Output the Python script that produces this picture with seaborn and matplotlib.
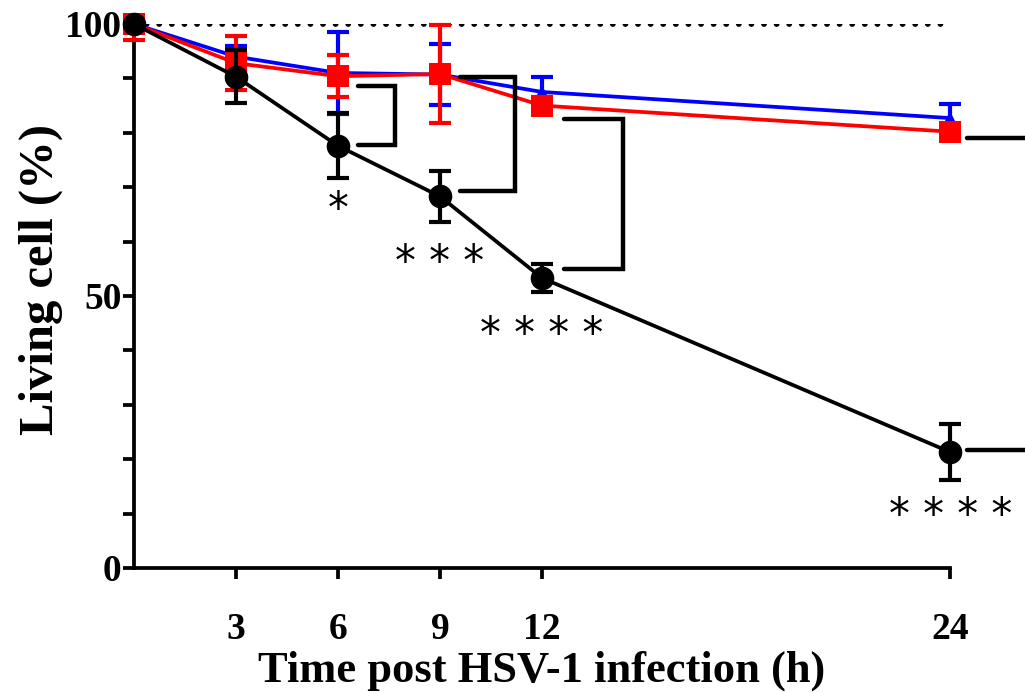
import numpy as np
import pandas as pd
import matplotlib
matplotlib.use("Agg")
import matplotlib.pyplot as plt
import seaborn as sns

# ---- data ----
times = [0, 3, 6, 9, 12, 24]
blue_mean = [100, 94.0, 91.0, 90.7, 87.5, 82.7]
blue_sd = [1.0, 2.0, 7.5, 5.6, 2.8, 2.6]
red_mean = [100, 92.8, 90.4, 90.8, 85.0, 80.2]
red_sd = [3.0, 5.0, 3.9, 9.0, 1.5, 1.5]
black_mean = [100, 90.3, 77.6, 68.3, 53.3, 21.3]
black_sd = [0.5, 4.9, 6.0, 4.7, 2.5, 5.2]

xticks = [3, 6, 9, 12, 24]
yticks = [0, 50, 100]
star_labels = ["*", "* * *", "* * * *", "* * * *"]
star_times = [6, 9, 12, 24]

sns.set_style("ticks")
plt.rcParams["font.family"] = ["Liberation Serif", "DejaVu Sans"]
plt.rcParams["font.weight"] = "bold"
for k in ["text.color", "axes.labelcolor", "xtick.color", "ytick.color",
          "axes.edgecolor"]:
    plt.rcParams[k] = "black"

fig = plt.figure(figsize=(10.25, 6.93), dpi=100)
ax = fig.add_axes([0.1307, 0.1804, 0.927 - 0.1307, 0.9654 - 0.1804])

series = [
    ("blue", blue_mean, blue_sd, "#0000FF", "^", 10, 3),
    ("red", red_mean, red_sd, "#FF0000", "s", 15.5, 4),
    ("black", black_mean, black_sd, "#000000", "o", 17, 5),
]

ax.axhline(100, xmin=0, xmax=1, color="black", linewidth=4.2,
           linestyle=(0, (0.01, 2.15)), dash_capstyle="round", zorder=1)

for name, m, s, col, mk, ms, z in series:
    df = pd.DataFrame({"time": times, "value": m})
    sns.lineplot(data=df, x="time", y="value", color=col, marker=mk,
                 markersize=ms, markeredgewidth=0, linewidth=2.7,
                 ax=ax, zorder=z, clip_on=False, legend=False)
    m_arr = np.array(m, dtype=float)
    s_arr = np.array(s, dtype=float)
    upper = np.minimum(s_arr, 100 - m_arr)  # clipped at the axis top
    ax.errorbar(times, m, yerr=[s_arr, upper], fmt="none", ecolor=col,
                elinewidth=3, capsize=8, capthick=3, zorder=z + 0.1,
                clip_on=False)

# significance brackets (x_left, x_right, y_top, y_bottom)
brackets = [
    (6.6, 7.68, 88.6, 77.8),
    (9.6, 11.2, 90.3, 69.3),
    (12.65, 14.38, 82.5, 55.0),
    (24.5, 27.5, 79.0, 21.7),
]
for xl, xr, yt, yb in brackets:
    ax.plot([xl, xr, xr, xl], [yt, yt, yb, yb], color="black", linewidth=3.2,
            solid_joinstyle="miter", clip_on=False, zorder=6)

star_y = [65.8, 56.0, 42.8, 9.6]
for t, lab, yy in zip(star_times, star_labels, star_y):
    ax.text(t, yy, lab, ha="center", va="center", fontsize=30,
            family="DejaVu Sans", fontweight="normal", color="black")

ax.set_xlim(0, 24)
ax.set_ylim(0, 100)
ax.set_xticks(xticks)
ax.set_yticks(yticks)
ax.set_yticks(np.arange(10, 100, 10), minor=True)
ax.set_xticklabels([str(v) for v in xticks])
ax.set_yticklabels([str(v) for v in yticks])

for side in ["top", "right"]:
    ax.spines[side].set_visible(False)
for side in ["left", "bottom"]:
    ax.spines[side].set_linewidth(2.7)
    ax.spines[side].set_color("black")

ax.tick_params(axis="both", which="both", width=2.7, length=8, color="black")
ax.tick_params(axis="y", which="major", labelsize=27, pad=1)
ax.tick_params(axis="x", which="major", labelsize=27, pad=24)

ax.set_xlabel("Time post HSV-1 infection (h)", fontsize=32, fontweight="bold",
              labelpad=2)
ax.set_ylabel("Living cell (%)", fontsize=35, fontweight="bold", labelpad=10)
ax.yaxis.set_label_coords(-0.087, 0.53)

fig.savefig("out.png", dpi=100)
